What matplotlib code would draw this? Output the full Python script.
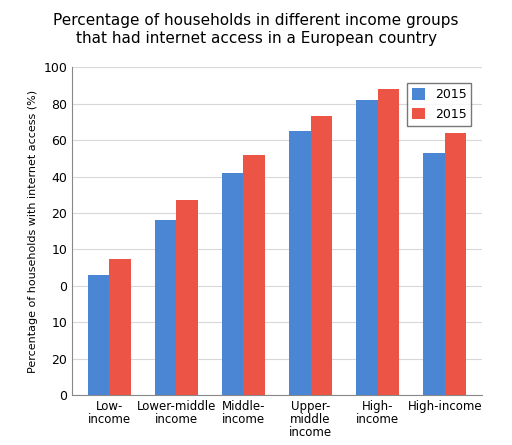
import matplotlib.pyplot as plt
import numpy as np

categories = ['Low-\nincome', 'Lower-middle\nincome', 'Middle-\nincome', 'Upper-\nmiddle\nincome', 'High-\nincome', 'High-income']
blue_vals = [3.3, 4.8, 6.1, 7.25, 8.1, 6.65]
red_vals = [3.75, 5.35, 6.6, 7.65, 8.4, 7.2]
tick_labels = ['0', '20', '10', '0', '10', '20', '40', '60', '80', '100']
series_labels = ['2015', '2015']

fig = plt.figure(figsize=(5.12, 4.45), dpi=100)
ax = fig.add_axes([0.141, 0.112, 0.8, 0.737])
x = np.arange(len(categories))
w = 0.32
ax.bar(x - w/2, blue_vals, w, color='#4a86d4', label=series_labels[0], zorder=3)
ax.bar(x + w/2, red_vals, w, color='#ec5446', label=series_labels[1], zorder=3)
ax.set_ylim(0, 9)
ax.set_yticks(range(10))
ax.set_yticklabels(tick_labels, fontsize=9)
ax.set_xlim(-0.55, 5.55)
ax.set_xticks(x)
ax.set_xticklabels(categories, fontsize=8.5, linespacing=1.0)
ax.tick_params(length=0)
ax.grid(axis='y', color='#d8d8d8', zorder=0)
for s in ['top', 'right']:
    ax.spines[s].set_visible(False)
ax.spines['left'].set_color('#888888')
ax.spines['bottom'].set_color('#888888')
ax.set_ylabel('Percentage of households with internet access (%)', fontsize=8)
ax.legend(loc='upper right', bbox_to_anchor=(0.99, 0.97), fontsize=9, handlelength=1, handleheight=1, fancybox=False, edgecolor='#555555')
fig.suptitle('Percentage of households in different income groups\nthat had internet access in a European country', fontsize=11, y=0.97)
fig.savefig('out.png', dpi=100)
